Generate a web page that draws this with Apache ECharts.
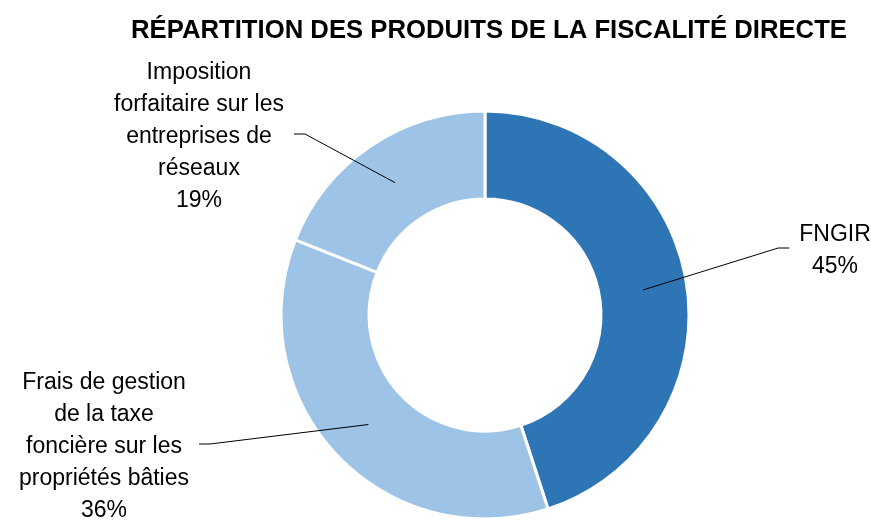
<!DOCTYPE html>
<html lang="fr" style="height: 100%">
<head>
  <meta charset="utf-8">
</head>
<body style="height: 100%; margin: 0; background: #fff">
  <div id="container" style="width: 871px; height: 520px"></div>

  <script type="text/javascript" src="https://cdn.jsdelivr.net/npm/echarts@6/dist/echarts.min.js"></script>
  <script type="text/javascript">
    // données
    var categories = [
      'FNGIR',
      'Frais de gestion\nde la taxe\nfoncière sur les\npropriétés bâties',
      'Imposition\nforfaitaire sur les\nentreprises de\nréseaux'
    ];
    var values = [45, 36, 19];
    var colors = ['#2E75B6', '#9DC3E6', '#9DC3E6'];
    // position des étiquettes (centre du bloc de texte)
    var labelPos = [[835, 251], [104, 447], [199, 137]];

    var center = [485, 315];
    var outerR = 204;
    var innerR = 116;
    var anchorR = (outerR + innerR) / 2; // les traits partent du milieu de l'anneau

    var dom = document.getElementById('container');
    var myChart = echarts.init(dom, null, { renderer: 'canvas' });

    var data = categories.map(function (name, i) {
      return { name: name, value: values[i], itemStyle: { color: colors[i] } };
    });
    // même découpage, transparent, posé au-dessus pour porter étiquettes et traits
    var labelData = categories.map(function (name, i) {
      return { name: name, value: values[i] };
    });

    var option = {
      backgroundColor: '#fff',
      animation: false,
      title: {
        text: 'RÉPARTITION DES PRODUITS DE LA FISCALITÉ DIRECTE',
        left: 484,
        top: 13,
        textAlign: 'center',
        textStyle: {
          fontFamily: 'Liberation Sans',
          fontWeight: 'bold',
          fontSize: 25.7,
          color: '#000'
        }
      },
      series: [
        {
          type: 'pie',
          z: 2,
          center: center,
          radius: [innerR, outerR],
          startAngle: 90,
          clockwise: true,
          data: data,
          silent: true,
          itemStyle: { borderColor: '#fff', borderWidth: 3 },
          label: { show: false },
          labelLine: { show: false }
        },
        {
          type: 'pie',
          z: 5,
          center: center,
          radius: [innerR, outerR],
          startAngle: 90,
          clockwise: true,
          data: labelData,
          silent: true,
          itemStyle: { color: 'rgba(0,0,0,0)', borderWidth: 0 },
          label: {
            show: true,
            formatter: function (p) {
              return p.name + '\n' + p.value + '%';
            },
            fontFamily: 'Liberation Sans',
            fontSize: 23,
            lineHeight: 32,
            color: '#000',
            align: 'center'
          },
          labelLine: {
            show: true,
            lineStyle: { color: '#000', width: 1 }
          },
          labelLayout: function (params) {
            var p = labelPos[params.dataIndex];
            var w = params.labelRect.width;
            var right = p[0] > center[0];
            var ly = p[1] - 3;
            var endX = right ? p[0] - w / 2 - 10 : p[0] + w / 2 + 10;
            var elbowX = right ? endX - 11 : endX + 11;
            var res = {
              x: p[0],
              y: p[1],
              align: 'center',
              verticalAlign: 'middle'
            };
            var pts = params.labelLinePoints;
            if (pts && pts.length) {
              var dx = pts[0][0] - center[0];
              var dy = pts[0][1] - center[1];
              var len = Math.sqrt(dx * dx + dy * dy) || 1;
              var a = [center[0] + dx / len * anchorR, center[1] + dy / len * anchorR];
              res.labelLinePoints = [a, [elbowX, ly], [endX, ly]];
            }
            return res;
          }
        }
      ]
    };

    myChart.setOption(option);
    window.addEventListener('resize', myChart.resize);
  </script>
</body>
</html>
